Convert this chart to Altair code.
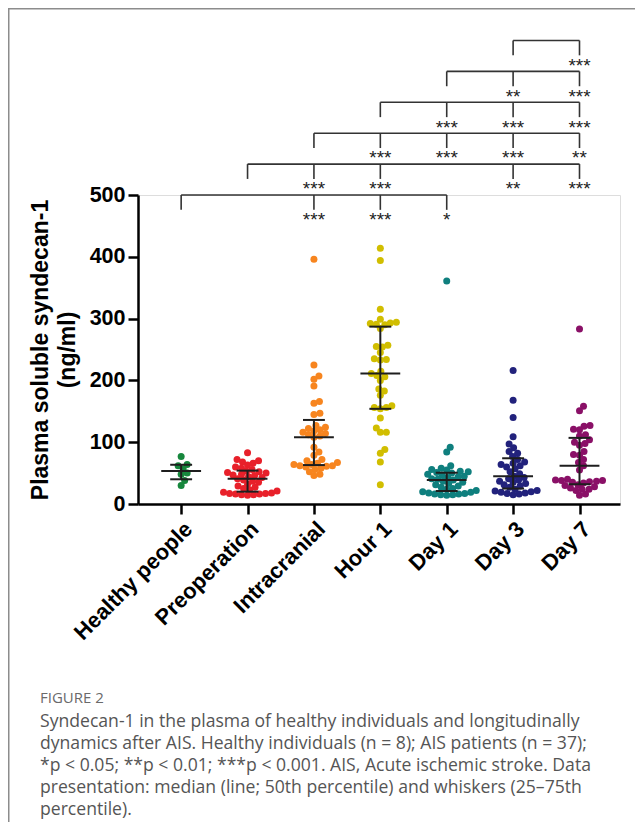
import altair as alt
import pandas as pd

# ---------------- data ----------------
categories = ["Healthy people", "Preoperation", "Intracranial", "Hour 1", "Day 1", "Day 3", "Day 7"]
colors = ["#17873d", "#e8202a", "#f7851f", "#d1be00", "#0f7f7e", "#22227c", "#8a1067"]

healthy = [77, 64, 62, 57, 50, 48, 38, 30]
preoperation = [83, 72, 70, 68, 66, 63, 60, 58, 56, 53, 52, 51, 50, 48, 47, 46, 44, 43, 41,
                39, 37, 35, 32, 29, 27, 25, 23, 21, 19, 18, 17, 17, 16, 16, 15, 15, 14]
intracranial = [396, 225, 207, 202, 191, 166, 163, 147, 145, 127, 124, 122, 120, 118, 116, 114, 112, 110, 108,
                92, 84, 79, 72, 70, 67, 66, 64, 64, 62, 62, 61, 60, 58, 56, 52, 48, 46]
hour1 = [414, 394, 315, 299, 294, 293, 292, 291, 290, 284, 257, 255, 254, 245, 235, 234, 233, 215, 211,
         208, 206, 200, 186, 183, 176, 159, 156, 156, 154, 139, 123, 116, 116, 88, 82, 68, 31]
day1 = [361, 92, 84, 62, 58, 56, 55, 53, 52, 51, 50, 48, 47, 45, 44, 43, 41, 40, 39,
        37, 35, 33, 31, 29, 27, 25, 24, 22, 20, 19, 18, 17, 16, 16, 15, 15, 14]
day3 = [216, 168, 140, 109, 97, 91, 85, 82, 77, 72, 68, 66, 64, 62, 60, 57, 52, 49, 45,
        43, 41, 39, 37, 35, 33, 31, 29, 27, 24, 22, 21, 20, 19, 18, 17, 16, 15]
day7 = [283, 158, 151, 127, 126, 121, 120, 112, 110, 104, 100, 98, 95, 85, 80, 79, 72, 67, 62,
        55, 40, 39, 38, 38, 37, 36, 35, 34, 31, 30, 28, 26, 24, 24, 22, 16, 14]
groups = [healthy, preoperation, intracranial, hour1, day1, day3, day7]

medians = [53.5, 41, 108, 211, 39, 45, 62]
q1 = [40, 20, 63, 154, 21, 25, 32]
q3 = [63.5, 54, 136, 287, 50.6, 74, 107]

# significance brackets: level, left group, right group, marked groups, stars
bracket_levels = [500, 550, 600, 650, 700, 750]
bracket_left = [0, 1, 2, 3, 4, 5]
bracket_right = [4, 6, 6, 6, 6, 6]
bracket_marks = [[2, 3, 4], [2, 3, 5, 6], [3, 4, 5, 6], [4, 5, 6], [5, 6], [6]]
bracket_stars = [["***", "***", "*"], ["***", "***", "**", "***"], ["***", "***", "***", "**"],
                 ["***", "***", "***"], ["**", "***"], ["***"]]

caption_head = "FIGURE 2"
caption_lines = [
    "Syndecan-1 in the plasma of healthy individuals and longitudinally",
    "dynamics after AIS. Healthy individuals (n = 8); AIS patients (n = 37);",
    "*p < 0.05; **p < 0.01; ***p < 0.001. AIS, Acute ischemic stroke. Data",
    "presentation: median (line; 50th percentile) and whiskers (25\u201375th",
    "percentile).",
]

# ---------------- layout ----------------
W, H = 482, 309
XMIN, XMAX = -0.65, 6.61
YMAX = 500
px_x = W / (XMAX - XMIN)
px_y = H / YMAX
SEP = 5.8  # allowed centre distance between dots in the swarm (dots overlap slightly)


def swarm(vals):
    """simple deterministic beeswarm: horizontal offsets (in group units)"""
    order = sorted(range(len(vals)), key=lambda i: vals[i])
    placed = []
    offs = [0.0] * len(vals)
    cands = [0.0]
    for k in range(1, 200):
        cands += [k * 0.5, -k * 0.5]
    for i in order:
        y = vals[i] * px_y
        for c in cands:
            if all((c - px) ** 2 + (y - py) ** 2 >= SEP * SEP for px, py in placed):
                break
        placed.append((c, y))
        offs[i] = c / px_x
    return offs


rows = []
for gi, vals in enumerate(groups):
    offs = swarm(vals)
    for v, o in zip(vals, offs):
        rows.append({"cat": categories[gi], "x": gi + o, "v": v})
pts = pd.DataFrame(rows)

summ = pd.DataFrame({
    "i": list(range(7)), "med": medians, "q1": q1, "q3": q3,
})
summ["mL"] = summ["i"] - 0.30
summ["mR"] = summ["i"] + 0.30
summ["cL"] = summ["i"] - 0.165
summ["cR"] = summ["i"] + 0.165

hseg, vseg, stars = [], [], []
DROP = 24
for lev, a, b, marks, st in zip(bracket_levels, bracket_left, bracket_right, bracket_marks, bracket_stars):
    hseg.append({"x": a, "x2": b, "y": lev})
    vseg.append({"x": a, "y": lev, "y2": lev - DROP})
    for m, s in zip(marks, st):
        vseg.append({"x": m, "y": lev, "y2": lev - DROP})
        stars.append({"x": m, "y": lev - 36, "t": s})
hseg = pd.DataFrame(hseg)
vseg = pd.DataFrame(vseg)
stars = pd.DataFrame(stars)

xscale = alt.Scale(domain=[XMIN, XMAX], nice=False, zero=False)
yscale = alt.Scale(domain=[0, YMAX], nice=False)

label_expr = "[" + ",".join("'" + c + "'" for c in categories) + "][datum.value]"

FONT = "Liberation Sans"

base_x = alt.X("x:Q", scale=xscale, axis=alt.Axis(
    values=list(range(7)), labelExpr=label_expr, labelAngle=-45, title=None, grid=False,
    labelFont=FONT, labelFontSize=22, labelFontWeight="bold", labelColor="black",
    labelOverlap=False, labelBound=False, labelFlush=False,
    tickSize=10, tickWidth=2.5, tickColor="black", domainWidth=2.5, domainColor="black",
    labelPadding=4))
base_y = alt.Y("v:Q", scale=yscale, axis=alt.Axis(
    values=[0, 100, 200, 300, 400, 500], grid=False,
    title=["Plasma soluble syndecan-1", "(ng/ml)"], titleFont=FONT, titleFontSize=23,
    titleFontWeight="bold", titleColor="black", titlePadding=10, titleLineHeight=27,
    labelFont=FONT, labelFontSize=21.5, labelFontWeight="bold", labelColor="black",
    labelOverlap=False, labelFlush=False,
    tickSize=10, tickWidth=2.5, tickColor="black", domainWidth=2.5, domainColor="black",
    labelPadding=3))

points = alt.Chart(pts).mark_circle(size=49, opacity=1).encode(
    x=base_x, y=base_y,
    color=alt.Color("cat:N", scale=alt.Scale(domain=categories, range=colors), legend=None),
)

LC = "#1e1e1e"
med_rule = alt.Chart(summ).mark_rule(color=LC, strokeWidth=2).encode(
    x=alt.X("mL:Q", scale=xscale), x2="mR:Q", y=alt.Y("med:Q", scale=yscale))
cap_hi = alt.Chart(summ).mark_rule(color=LC, strokeWidth=2).encode(
    x=alt.X("cL:Q", scale=xscale), x2="cR:Q", y=alt.Y("q3:Q", scale=yscale))
cap_lo = alt.Chart(summ).mark_rule(color=LC, strokeWidth=2).encode(
    x=alt.X("cL:Q", scale=xscale), x2="cR:Q", y=alt.Y("q1:Q", scale=yscale))
whisk = alt.Chart(summ).mark_rule(color=LC, strokeWidth=2).encode(
    x=alt.X("i:Q", scale=xscale), y=alt.Y("q1:Q", scale=yscale), y2="q3:Q")

BC = "#333333"
br_h = alt.Chart(hseg).mark_rule(color=BC, strokeWidth=1.6).encode(
    x=alt.X("x:Q", scale=xscale), x2="x2:Q", y=alt.Y("y:Q", scale=yscale))
br_v = alt.Chart(vseg).mark_rule(color=BC, strokeWidth=1.6).encode(
    x=alt.X("x:Q", scale=xscale), y=alt.Y("y:Q", scale=yscale), y2="y2:Q")
br_t = alt.Chart(stars).mark_text(font=FONT, fontSize=19, color="#222222", align="center",
                                  baseline="middle", dy=3).encode(
    x=alt.X("x:Q", scale=xscale), y=alt.Y("y:Q", scale=yscale), text="t:N")

one = pd.DataFrame({"a": [0]})
frame = alt.Chart(one).mark_rect(fillOpacity=0, stroke="#8c8c8c", strokeWidth=1.5).encode(
    x=alt.value(-129.25), x2=alt.value(900), y=alt.value(-186.25), y2=alt.value(900))

cap_h = alt.Chart(one).mark_text(font="Open Sans", fontSize=15, color="#6a6a6a", align="left",
                                 baseline="alphabetic").encode(
    x=alt.value(-98), y=alt.value(508), text=alt.value(caption_head))
cap_t = alt.Chart(one).mark_text(font="Open Sans", fontSize=17.6, color="#555555", align="left",
                                 baseline="alphabetic", lineHeight=22).encode(
    x=alt.value(-98), y=alt.value(532), text=alt.value(caption_lines))

chart = alt.layer(
    frame, points, med_rule, cap_hi, cap_lo, whisk, br_h, br_v, br_t, cap_h, cap_t
).properties(
    width=W, height=H,
    autosize=alt.AutoSizeParams(type="none"),
    padding={"left": 130, "top": 187, "right": 15, "bottom": 318},
).configure_view(stroke=None).configure(background="white")

chart.save("out.html", embed_options={"renderer": "svg", "actions": False})
